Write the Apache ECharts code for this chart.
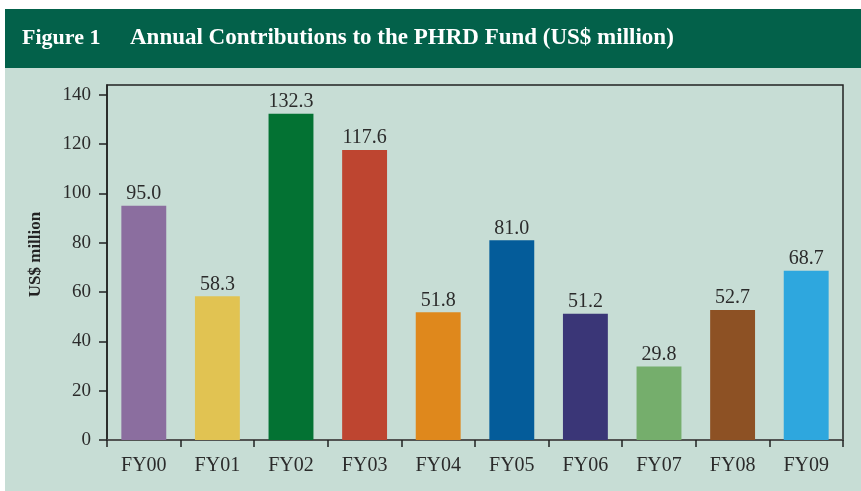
<!DOCTYPE html>
<html><head><meta charset="utf-8">
<script src="https://cdn.jsdelivr.net/npm/echarts@6/dist/echarts.min.js"></script>
<style>html,body{margin:0;padding:0;background:#fff}#c{width:861px;height:491px}</style>
</head><body><div id="c"></div>
<script>
const categories = ['FY00','FY01','FY02','FY03','FY04','FY05','FY06','FY07','FY08','FY09'];
const values = [95.0, 58.3, 132.3, 117.6, 51.8, 81.0, 51.2, 29.8, 52.7, 68.7];
const barColors = ['#8b6e9f','#e1c352','#037233','#be4530','#df881c','#045c9a','#3a3677','#75ae6c','#8d5124','#2ea7de'];
const yTicks = [0, 20, 40, 60, 80, 100, 120, 140];
const titleLabel = 'Figure 1';
const titleText = 'Annual Contributions to the PHRD Fund (US$ million)';
const yAxisName = 'US$ million';

const FONT = '"Liberation Serif", "DejaVu Serif", serif';
const chart = echarts.init(document.getElementById('c'), null, {renderer: 'canvas'});
chart.setOption({
  animation: false,
  backgroundColor: '#ffffff',
  graphic: [
    {type: 'rect', z: -10, silent: true, shape: {x: 5, y: 68, width: 856, height: 423}, style: {fill: '#c7ddd5'}},
    {type: 'rect', z: -10, silent: true, shape: {x: 5, y: 9, width: 856, height: 59}, style: {fill: '#03614a'}},
    {type: 'text', z: 10, x: 22, y: 38, style: {text: titleLabel, fill: '#ffffff', font: 'bold 22px ' + FONT, verticalAlign: 'middle'}},
    {type: 'text', z: 10, x: 130, y: 38, style: {text: titleText, fill: '#ffffff', font: 'bold 23px ' + FONT, verticalAlign: 'middle'}}
  ],
  grid: {left: 107, right: 18, top: 85, bottom: 51, show: true, borderColor: '#222', borderWidth: 1.5, backgroundColor: 'transparent'},
  xAxis: {
    type: 'category',
    data: categories,
    axisLine: {lineStyle: {color: '#555', width: 1.5}},
    axisTick: {show: true, length: 7, lineStyle: {color: '#222', width: 1.5}},
    axisLabel: {fontFamily: FONT, fontSize: 20, color: '#2b2b2b', margin: 16}
  },
  yAxis: {
    type: 'value',
    min: 0, max: 144, interval: 20,
    name: yAxisName,
    nameLocation: 'middle',
    nameGap: 63,
    nameTextStyle: {fontFamily: FONT, fontSize: 17, fontWeight: 'bold', color: '#222', padding: [0, 0, 0, 16]},
    axisLine: {show: true, lineStyle: {color: '#222', width: 1.5}},
    axisTick: {show: true, length: 8, customValues: yTicks, lineStyle: {color: '#222', width: 1.5}},
    axisLabel: {fontFamily: FONT, fontSize: 19, color: '#2b2b2b', margin: 16, customValues: yTicks},
    splitLine: {show: false}
  },
  series: [{
    type: 'bar',
    barWidth: '61%',
    data: values.map((v, i) => ({value: v, itemStyle: {color: barColors[i]}})),
    label: {show: true, position: 'top', distance: 2, fontFamily: FONT, fontSize: 20, color: '#2b2b2b',
      formatter: p => p.value.toFixed(1)}
  }]
});
</script></body></html>
